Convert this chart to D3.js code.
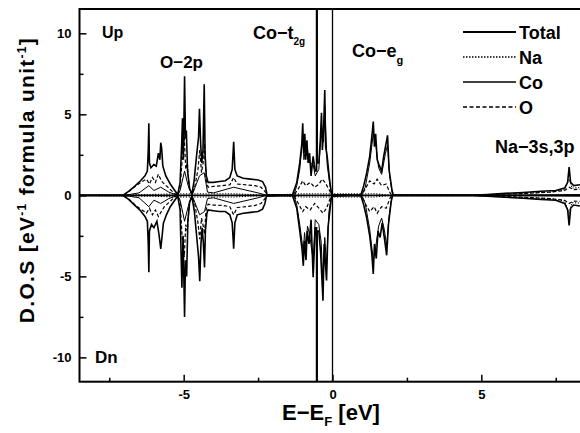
<!DOCTYPE html>
<html>
<head>
<meta charset="utf-8">
<script src="https://cdn.jsdelivr.net/npm/d3@7"></script>
<style>
  body { margin: 0; background: #fff; }
  svg { display: block; font-family: "Liberation Sans", Arial, sans-serif; }
</style>
</head>
<body>
<svg id="svg_1"></svg>
<script>
var chart_width = 580;
var chart_height = 433;
// plot frame (right edge runs off the picture like the scan)
var plot = { left: 79.5, top: 9, right: 585.5, bottom: 381.7 };

var xDomain = [-8.5, 8.5];
var yDomain = [-11.5, 11.5];
var xMajorTicks = [-5, 0, 5];
var xMinorTicks = [-7.5, -2.5, 2.5, 7.5];
var yMajorTicks = [-10, -5, 0, 5, 10];
var yMinorTicks = [-7.5, -2.5, 2.5, 7.5];
var legendNames = ["Total", "Na", "Co", "O"];

//---- DOS series, [E - Ef (eV), states/eV/f.u.] ----
var totalUp = [
  [-8.5,0],[-7.05,0],[-6.85,0.25],[-6.65,0.55],[-6.45,0.9],[-6.3,1.2],[-6.22,1.5],[-6.19,2.8],[-6.17,4.45],[-6.15,2.0],[-6.1,1.7],[-6.0,1.9],[-5.92,1.8],[-5.85,2.6],[-5.8,2.2],[-5.77,3.25],[-5.74,2.9],[-5.7,1.8],[-5.6,1.2],[-5.45,0.7],[-5.3,0.3],[-5.2,0.05],
  [-5.12,0.8],[-5.07,3.0],[-5.04,4.75],[-5.01,2.2],[-4.97,7.35],[-4.94,3.5],[-4.91,4.0],[-4.87,1.5],[-4.8,0.4],[-4.72,0.1],[-4.65,0.9],[-4.57,2.4],[-4.5,3.6],[-4.47,5.35],[-4.43,3.2],[-4.39,2.0],[-4.35,2.8],[-4.31,6.85],[-4.28,2.5],[-4.24,1.2],[-4.18,0.8],
  [-4.0,0.8],[-3.8,0.85],[-3.6,0.9],[-3.45,1.1],[-3.37,1.6],[-3.32,3.3],[-3.28,1.6],[-3.2,1.2],[-3.0,1.05],[-2.75,1.0],[-2.5,0.95],[-2.35,0.85],[-2.25,0.5],[-2.2,0.05],
  [-1.35,0],[-1.2,0.8],[-1.1,2.0],[-1.03,3.2],[-1.0,4.45],[-0.97,2.6],[-0.93,3.8],[-0.9,2.2],[-0.86,3.4],[-0.82,2.0],[-0.77,2.6],[-0.72,1.2],[-0.65,2.4],[-0.58,1.5],[-0.535,1.5],[-0.535,20],[-0.515,20],[-0.515,2.0],[-0.46,2.0],[-0.41,3.4],[-0.37,5.1],[-0.34,2.8],[-0.3,4.0],[-0.26,6.5],[-0.23,3.0],[-0.18,2.4],[-0.1,1.0],[-0.03,0.05],
  [0.95,0],[1.05,0.6],[1.15,1.4],[1.25,2.4],[1.32,3.6],[1.37,4.55],[1.41,3.0],[1.45,3.8],[1.5,2.2],[1.58,1.8],[1.65,1.5],[1.72,2.4],[1.78,3.0],[1.85,3.7],[1.9,1.6],[2.0,0.3],[2.05,0],
  [4.6,0],[5.2,0.05],[5.8,0.12],[6.4,0.18],[7.0,0.25],[7.5,0.3],[7.8,0.45],[7.9,0.8],[7.95,1.75],[8.0,0.8],[8.1,0.6],[8.5,0.7]
];
var totalDn = [
  [-8.5,0],[-7.05,0],[-6.85,-0.25],[-6.65,-0.6],[-6.45,-0.95],[-6.3,-1.3],[-6.22,-1.6],[-6.19,-3.0],[-6.17,-4.75],[-6.15,-2.2],[-6.08,-1.8],[-6.0,-2.0],[-5.9,-1.6],[-5.83,-2.4],[-5.77,-3.3],[-5.73,-2.6],[-5.68,-1.7],[-5.58,-1.2],[-5.45,-0.7],[-5.3,-0.3],[-5.2,-0.05],
  [-5.12,-0.9],[-5.06,-5.7],[-5.02,-2.5],[-4.97,-7.5],[-4.94,-4.0],[-4.9,-5.0],[-4.86,-1.6],[-4.8,-0.4],[-4.72,-0.1],[-4.64,-1.0],[-4.56,-2.6],[-4.5,-3.8],[-4.46,-5.3],[-4.42,-3.0],[-4.38,-2.0],[-4.34,-2.9],[-4.3,-4.45],[-4.27,-2.2],[-4.22,-1.1],[-4.18,-0.9],
  [-4.0,-0.95],[-3.8,-1.0],[-3.6,-1.0],[-3.45,-1.2],[-3.37,-1.7],[-3.32,-3.3],[-3.28,-1.7],[-3.2,-1.2],[-3.0,-1.1],[-2.75,-1.05],[-2.5,-1.0],[-2.35,-0.85],[-2.27,-0.5],[-2.22,-0.05],
  [-1.35,0],[-1.2,-0.8],[-1.1,-2.2],[-1.02,-3.4],[-0.98,-4.35],[-0.95,-2.8],[-0.89,-4.0],[-0.85,-2.2],[-0.79,-3.0],[-0.72,-1.5],[-0.65,-5.05],[-0.58,-2.0],[-0.535,-2.0],[-0.535,-20],[-0.515,-20],[-0.515,-2.2],[-0.46,-2.2],[-0.4,-3.5],[-0.32,-6.5],[-0.28,-3.0],[-0.2,-5.25],[-0.15,-2.0],[-0.08,-0.8],[-0.03,-0.05],
  [0.95,0],[1.05,-0.6],[1.15,-1.4],[1.25,-2.5],[1.32,-3.6],[1.37,-4.85],[1.41,-3.0],[1.47,-3.9],[1.53,-2.2],[1.6,-2.6],[1.67,-1.7],[1.74,-2.6],[1.82,-3.7],[1.88,-1.8],[1.97,-0.4],[2.02,0],
  [4.6,0],[5.2,-0.05],[5.8,-0.12],[6.4,-0.18],[7.0,-0.25],[7.5,-0.3],[7.8,-0.5],[7.9,-0.9],[7.95,-1.86],[8.0,-0.8],[8.1,-0.6],[8.5,-0.7]
];
var oUp = [
  [-7.0,0],[-6.8,0.3],[-6.6,0.6],[-6.4,0.85],[-6.25,1.0],[-6.15,0.7],[-6.05,1.1],[-5.95,0.8],[-5.85,1.3],[-5.75,0.9],[-5.65,0.7],[-5.5,0.45],[-5.3,0.1],[-5.2,0],
  [-5.12,0.5],[-5.04,2.4],[-4.98,3.6],[-4.93,1.6],[-4.88,2.0],[-4.8,0.3],[-4.72,0.05],[-4.62,0.6],[-4.52,1.6],[-4.46,2.8],[-4.4,1.4],[-4.33,2.2],[-4.3,3.2],[-4.25,1.0],[-4.18,0.5],
  [-4.0,0.55],[-3.7,0.6],[-3.45,0.65],[-3.32,1.1],[-3.2,0.7],[-2.9,0.65],[-2.6,0.6],[-2.4,0.5],[-2.25,0.2],[-2.2,0],
  [-1.3,0],[-1.15,0.4],[-1.0,0.9],[-0.9,0.6],[-0.75,0.8],[-0.6,0.5],[-0.45,0.7],[-0.35,1.0],[-0.25,0.8],[-0.1,0.3],[-0.03,0],
  [0.98,0],[1.1,0.4],[1.25,0.9],[1.4,0.7],[1.5,1.0],[1.65,0.6],[1.8,0.7],[1.95,0.1],[2.0,0],
  [4.7,0],[5.5,0.05],[6.5,0.12],[7.3,0.2],[7.8,0.3],[7.95,0.5],[8.1,0.35],[8.5,0.4]
];
var oDn = [
  [-7.0,0],[-6.8,-0.3],[-6.6,-0.65],[-6.4,-0.9],[-6.25,-1.1],[-6.15,-0.8],[-6.05,-1.2],[-5.95,-0.9],[-5.85,-1.3],[-5.75,-1.0],[-5.65,-0.7],[-5.5,-0.45],[-5.3,-0.1],[-5.2,0],
  [-5.12,-0.5],[-5.05,-2.6],[-4.98,-3.8],[-4.93,-1.8],[-4.88,-2.2],[-4.8,-0.3],[-4.72,-0.05],[-4.62,-0.6],[-4.52,-1.7],[-4.46,-2.7],[-4.4,-1.4],[-4.33,-2.0],[-4.3,-2.4],[-4.25,-0.9],[-4.18,-0.55],
  [-4.0,-0.6],[-3.7,-0.62],[-3.45,-0.7],[-3.32,-1.2],[-3.2,-0.75],[-2.9,-0.7],[-2.6,-0.62],[-2.4,-0.5],[-2.27,-0.2],[-2.22,0],
  [-1.3,0],[-1.15,-0.5],[-1.0,-1.0],[-0.9,-0.7],[-0.75,-0.9],[-0.6,-0.5],[-0.45,-0.8],[-0.32,-1.1],[-0.2,-0.8],[-0.1,-0.3],[-0.03,0],
  [0.98,0],[1.1,-0.5],[1.25,-1.0],[1.4,-0.7],[1.5,-1.1],[1.65,-0.7],[1.8,-0.8],[1.95,-0.1],[2.0,0],
  [4.7,0],[5.5,-0.05],[6.5,-0.12],[7.3,-0.2],[7.8,-0.3],[7.95,-0.5],[8.1,-0.35],[8.5,-0.4]
];
var coUp = [
  [-7.0,0],[-6.5,0.15],[-6.17,0.6],[-6.0,0.3],[-5.77,0.5],[-5.5,0.2],[-5.2,0],
  [-5.12,0.3],[-4.97,1.5],[-4.85,0.6],[-4.72,0],[-4.47,1.2],[-4.31,1.4],[-4.2,0.2],
  [-4.0,0.15],[-3.32,0.5],[-2.5,0.15],[-2.2,0],
  [-1.3,0],[-1.2,0.6],[-1.1,1.6],[-1.0,3.6],[-0.96,2.2],[-0.9,3.0],[-0.84,2.8],[-0.77,2.0],[-0.65,1.9],[-0.58,1.2],[-0.46,1.6],[-0.37,4.3],[-0.3,3.3],[-0.26,5.5],[-0.18,1.9],[-0.1,0.8],[-0.03,0],
  [0.97,0],[1.1,0.5],[1.25,2.0],[1.37,3.8],[1.45,3.2],[1.55,1.7],[1.65,1.3],[1.78,2.6],[1.85,3.1],[1.92,1.2],[2.02,0],
  [4.7,0],[8.5,0.05]
];
var coDn = [
  [-7.0,0],[-6.5,-0.15],[-6.17,-0.7],[-6.0,-0.3],[-5.77,-0.5],[-5.5,-0.2],[-5.2,0],
  [-5.12,-0.3],[-4.97,-1.6],[-4.85,-0.7],[-4.72,0],[-4.46,-1.2],[-4.3,-1.0],[-4.2,-0.2],
  [-4.0,-0.15],[-3.32,-0.5],[-2.5,-0.15],[-2.22,0],
  [-1.3,0],[-1.2,-0.6],[-1.1,-1.8],[-0.98,-3.5],[-0.94,-2.3],[-0.89,-3.2],[-0.84,-1.9],[-0.77,-2.4],[-0.65,-4.0],[-0.58,-1.5],[-0.46,-1.8],[-0.38,-2.9],[-0.32,-5.4],[-0.26,-2.6],[-0.2,-4.3],[-0.12,-1.0],[-0.03,0],
  [0.97,0],[1.1,-0.5],[1.25,-2.1],[1.37,-4.0],[1.45,-3.2],[1.55,-1.9],[1.65,-1.4],[1.74,-2.1],[1.82,-3.1],[1.9,-1.3],[2.0,0],
  [4.7,0],[8.5,-0.05]
];
var naUp = [
  [-8.5,0],[-6.2,0.05],[-5.0,0.1],[-4.3,0.1],[-3.3,0.1],[-2.2,0],[-1.0,0.1],[-0.3,0.1],[1.4,0.1],[2.0,0],
  [4.6,0],[5.5,0.08],[6.5,0.14],[7.3,0.2],[7.8,0.35],[7.95,1.0],[8.05,0.45],[8.5,0.5]
];
var naDn = [
  [-8.5,0],[-6.2,-0.05],[-5.0,-0.1],[-4.3,-0.1],[-3.3,-0.1],[-2.2,0],[-1.0,-0.1],[-0.3,-0.1],[1.4,-0.1],[2.0,0],
  [4.6,0],[5.5,-0.08],[6.5,-0.14],[7.3,-0.2],[7.8,-0.35],[7.95,-1.1],[8.05,-0.45],[8.5,-0.5]
];

//--------------------------------------

var seriesStyle = {
  "Total": { width: 1.6, dash: null },
  "Na":    { width: 1.1, dash: "1.2,1.6" },
  "Co":    { width: 1.0, dash: null },
  "O":     { width: 1.2, dash: "3.5,2.2" }
};

function drawDosChart()
{
  var svg_1 = d3.select('#svg_1')
    .attr('width', chart_width)
    .attr('height', chart_height);

  svg_1.append('rect')
    .attr('width', chart_width)
    .attr('height', chart_height)
    .attr('fill', '#fff');

  var xScale = d3.scaleLinear().domain(xDomain).range([plot.left, plot.right]);
  var yScale = d3.scaleLinear().domain(yDomain).range([plot.bottom, plot.top]);

  svg_1.append('clipPath')
    .attr('id', 'plot-clip')
    .append('rect')
    .attr('x', plot.left)
    .attr('y', plot.top)
    .attr('width', plot.right - plot.left)
    .attr('height', plot.bottom - plot.top);

  var line = d3.line()
    .x(function(d) { return xScale(d[0]); })
    .y(function(d) { return yScale(d[1]); });

  var g = svg_1.append('g').attr('clip-path', 'url(#plot-clip)');

  // reference lines: zero DOS and Fermi level
  g.append('line')
    .attr('x1', xScale(xDomain[0])).attr('x2', xScale(xDomain[1]))
    .attr('y1', yScale(0)).attr('y2', yScale(0))
    .attr('stroke', '#000').attr('stroke-width', 1.6);
  g.append('line')
    .attr('x1', xScale(0)).attr('x2', xScale(0))
    .attr('y1', yScale(yDomain[0])).attr('y2', yScale(yDomain[1]))
    .attr('stroke', '#000').attr('stroke-width', 1.3);

  var curves = [
    { name: "Na", data: naUp }, { name: "Na", data: naDn },
    { name: "Co", data: coUp }, { name: "Co", data: coDn },
    { name: "O", data: oUp },   { name: "O", data: oDn },
    { name: "Total", data: totalUp }, { name: "Total", data: totalDn }
  ];

  g.selectAll('path.dos')
    .data(curves)
    .enter()
    .append('path')
    .attr('class', 'dos')
    .attr('d', function(d) { return line(d.data); })
    .attr('fill', 'none')
    .attr('stroke', '#000')
    .attr('stroke-width', function(d) { return seriesStyle[d.name].width; })
    .attr('stroke-dasharray', function(d) { return seriesStyle[d.name].dash; })
    .attr('stroke-linejoin', 'miter');

  // axes, ticks pointing inward
  var fmt = function(d) { return String(d); };

  svg_1.append('g')
    .attr('transform', 'translate(' + plot.left + ',0)')
    .call(d3.axisLeft(yScale).tickValues(yMajorTicks).tickSize(-7).tickPadding(8).tickFormat(fmt))
    .call(styleAxis);
  svg_1.append('g')
    .attr('transform', 'translate(' + plot.left + ',0)')
    .call(d3.axisLeft(yScale).tickValues(yMinorTicks).tickSize(-4).tickFormat(''))
    .call(styleAxis);

  svg_1.append('g')
    .attr('transform', 'translate(0,' + plot.bottom + ')')
    .call(d3.axisBottom(xScale).tickValues(xMajorTicks).tickSize(-7).tickPadding(8).tickFormat(fmt))
    .call(styleAxis);
  svg_1.append('g')
    .attr('transform', 'translate(0,' + plot.bottom + ')')
    .call(d3.axisBottom(xScale).tickValues(xMinorTicks).tickSize(-4).tickFormat(''))
    .call(styleAxis);

  svg_1.append('rect')
    .attr('x', plot.left)
    .attr('y', plot.top)
    .attr('width', plot.right - plot.left)
    .attr('height', plot.bottom - plot.top)
    .attr('fill', 'none')
    .attr('stroke', '#000')
    .attr('stroke-width', 2);

  // axis titles
  var xt = svg_1.append('text')
    .attr('x', 331).attr('y', 420)
    .attr('text-anchor', 'middle')
    .style('font-size', '22px').style('font-weight', 'bold');
  xt.append('tspan').text('E\u2212E');
  xt.append('tspan').attr('dy', 6).style('font-size', '13px').text('F');
  xt.append('tspan').attr('dy', -6).text(' [eV]');

  var yt = svg_1.append('text')
    .attr('transform', 'translate(34,180) rotate(-90)')
    .attr('text-anchor', 'middle')
    .style('font-size', '21px').style('font-weight', 'bold')
    .style('letter-spacing', '1.3px');
  yt.append('tspan').text('D.O.S [eV');
  yt.append('tspan').attr('dy', -8).style('font-size', '12px').text('-1');
  yt.append('tspan').attr('dy', 8).text(' formula unit');
  yt.append('tspan').attr('dy', -8).style('font-size', '12px').text('-1');
  yt.append('tspan').attr('dy', 8).text(']');

  // annotations
  addLabel(svg_1, 102, 38, 16, 'Up');
  addLabel(svg_1, 95, 363, 17, 'Dn');
  addLabel(svg_1, 160, 68, 17, 'O\u22122p');
  addLabel(svg_1, 495, 153, 18, 'Na\u22123s,3p');

  var t2g = addLabel(svg_1, 253, 39, 18, 'Co\u2212t');
  t2g.append('tspan').attr('dy', 6).style('font-size', '10px').text('2g');
  var eg = addLabel(svg_1, 352, 57, 18, 'Co\u2212e');
  eg.append('tspan').attr('dy', 7).style('font-size', '11px').text('g');

  // legend
  var legend = svg_1.append('g')
    .selectAll('g')
    .data(legendNames)
    .enter()
    .append('g')
    .attr('transform', function(d, i) { return 'translate(0,' + (32 + i * 25) + ')'; });

  legend.append('line')
    .attr('x1', 463).attr('x2', 516)
    .attr('y1', 0).attr('y2', 0)
    .attr('stroke', '#000')
    .attr('stroke-width', function(d) { return d === 'Total' ? 2.2 : (d === 'Co' ? 1.6 : 1.5); })
    .attr('stroke-dasharray', function(d) { return d === 'Na' ? '1.5,1.5' : (d === 'O' ? '4,2.5' : null); });

  legend.append('text')
    .attr('x', 519).attr('y', 7)
    .style('font-size', '18px').style('font-weight', 'bold')
    .text(function(d) { return d; });
}

function styleAxis(sel)
{
  sel.select('.domain').remove();
  sel.selectAll('.tick line').attr('stroke', '#000').attr('stroke-width', 1.5);
  sel.selectAll('.tick text')
    .attr('fill', '#000')
    .style('font-size', '13px')
    .style('font-weight', 'bold')
    .style('font-family', '"Liberation Sans", Arial, sans-serif');
}

function addLabel(svg, x, y, size, txt)
{
  return svg.append('text')
    .attr('x', x).attr('y', y)
    .style('font-size', size + 'px')
    .style('font-weight', 'bold')
    .text(txt);
}

drawDosChart();
</script>
</body>
</html>
